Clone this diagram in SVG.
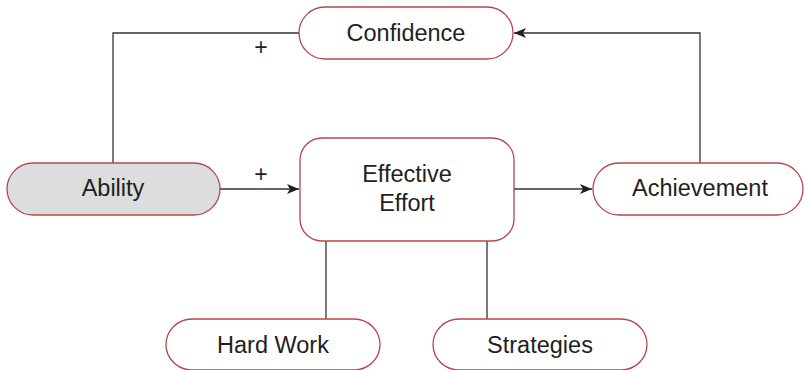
<svg xmlns="http://www.w3.org/2000/svg" width="804" height="370" viewBox="0 0 804 370">
<style>
.node{fill:#ffffff;stroke:#b5474b;stroke-width:1.3}
.grey{fill:#dcdddf}
.lbl{font-family:"Liberation Sans",Arial,sans-serif;font-size:23.5px;fill:#231f20;text-anchor:middle}
.plus{font-family:"Liberation Sans",Arial,sans-serif;font-size:23px;fill:#231f20;text-anchor:middle}
.conn{fill:none;stroke:#333333;stroke-width:1.3}
</style>
<defs>
<marker id="arr" viewBox="0 0 12 10" refX="12" refY="5" markerWidth="12" markerHeight="10" markerUnits="userSpaceOnUse" orient="auto">
<path d="M0,0 L12,5 L0,10 L3,5 Z" fill="#231f20"/>
</marker>
</defs>
<rect width="804" height="370" fill="#ffffff"/>
<g id="connectors">
<path class="conn" d="M113,163 V33 H299"/>
<path class="conn" d="M220,189 H299" marker-end="url(#arr)"/>
<path class="conn" d="M514,189 H592" marker-end="url(#arr)"/>
<path class="conn" d="M700,163 V33 H514" marker-end="url(#arr)"/>
<path class="conn" d="M326,241 V319"/>
<path class="conn" d="M487,241 V319"/>
<text class="plus" x="261" y="55">+</text>
<text class="plus" x="261" y="182">+</text>
</g>
<g id="confidence">
<rect class="node" x="299" y="7" width="214" height="52" rx="26"/>
<text class="lbl" x="406" y="40.5">Confidence</text>
</g>
<g id="ability">
<rect class="node grey" x="7" y="163" width="213" height="52" rx="26"/>
<text class="lbl" x="113" y="195.5">Ability</text>
</g>
<g id="effective-effort">
<rect class="node" x="300" y="138" width="214" height="103" rx="22"/>
<text class="lbl" x="407" y="182">Effective</text>
<text class="lbl" x="407" y="211">Effort</text>
</g>
<g id="achievement">
<rect class="node" x="593" y="163" width="210" height="52" rx="26"/>
<text class="lbl" x="700" y="195.5">Achievement</text>
</g>
<g id="hard-work">
<rect class="node" x="166" y="319" width="214" height="51" rx="26"/>
<text class="lbl" x="273" y="353">Hard Work</text>
</g>
<g id="strategies">
<rect class="node" x="433" y="319" width="214" height="51" rx="26"/>
<text class="lbl" x="540" y="353">Strategies</text>
</g>
</svg>
